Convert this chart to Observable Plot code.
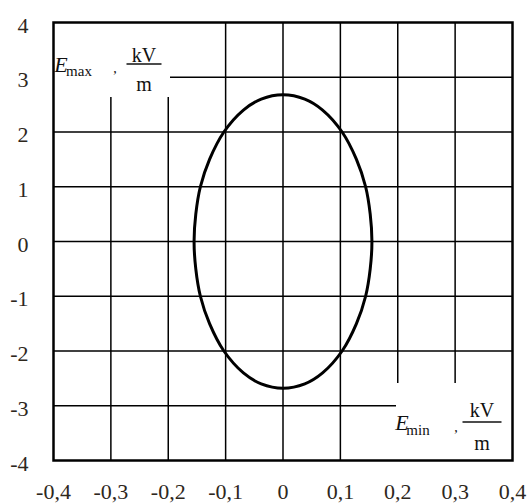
<!DOCTYPE html>
<html>
<head>
<meta charset="utf-8">
<script src="https://cdn.jsdelivr.net/npm/d3@7"></script>
<script src="https://cdn.jsdelivr.net/npm/@observablehq/plot@0.6"></script>
<style>
  html, body { margin: 0; padding: 0; background: #fff; }
  #chart svg { display: block; }
  #chart svg text { font-family: "Liberation Serif", "Times New Roman", serif; }
</style>
</head>
<body>
<div id="chart"></div>
<script>
// Grid ticks and their printed labels (decimal comma)
const xTicks = [-0.4, -0.3, -0.2, -0.1, 0, 0.1, 0.2, 0.3, 0.4];
const xTickLabels = ["-0,4", "-0,3", "-0,2", "-0,1", "0", "0,1", "0,2", "0,3", "0,4"];
const yTicks = [-4, -3, -2, -1, 0, 1, 2, 3, 4];
const yTickLabels = ["-4", "-3", "-2", "-1", "0", "1", "2", "3", "4"];

// Field hodograph: E_min (x) against E_max (y), kV/m
const eMin = [0, 0.038, 0.069, 0.103, 0.128, 0.144, 0.152, 0.155, 0.152, 0.144, 0.128, 0.103, 0.069, 0.038,
              0, -0.038, -0.069, -0.103, -0.128, -0.144, -0.152, -0.155, -0.152, -0.144, -0.128, -0.103, -0.069, -0.038];
const eMax = [2.68, 2.6, 2.4, 2.0, 1.5, 1.0, 0.5, 0, -0.5, -1.0, -1.5, -2.0, -2.4, -2.6,
              -2.68, -2.6, -2.4, -2.0, -1.5, -1.0, -0.5, 0, 0.5, 1.0, 1.5, 2.0, 2.4, 2.6];

const curve = eMin.map((x, i) => ({x, y: eMax[i]}));
const gridX = xTicks.slice(1, -1);
const gridY = yTicks.slice(1, -1);

const textColor = "#2e271c";

// Axis name written as E_sub, kV/m with a stacked fraction, on a white patch in a frame corner
function axisName(corner, sub) {
  return (index, scales, values, dim) => {
    const L = dim.marginLeft, T = dim.marginTop;
    const R = dim.width - dim.marginRight, B = dim.height - dim.marginBottom;
    const g = d3.create("svg:g").attr("fill", "#111");
    let o;
    if (corner === "top-left") {
      g.append("rect").attr("x", L).attr("y", T).attr("width", 117).attr("height", 75).attr("fill", "#fff");
      o = {ex: L + 8, ey: T + 50, sx: L + 26, sy: T + 54, cx: L + 62, cy: T + 51,
           fx: L + 91, kvy: T + 40, by: T + 42, bw: 35, my: T + 69};
    } else {
      g.append("rect").attr("x", R - 116).attr("y", B - 77).attr("width", 116).attr("height", 77).attr("fill", "#fff");
      o = {ex: R - 110, ey: B - 30, sx: R - 94, sy: B - 25, cx: R - 56, cy: B - 28,
           fx: R - 30, kvy: B - 43, by: B - 38, bw: 39, my: B - 10};
    }
    g.append("text").attr("x", o.ex).attr("y", o.ey).attr("font-size", 22).attr("font-style", "italic").text("E");
    g.append("text").attr("x", o.sx).attr("y", o.sy).attr("font-size", 15).text(sub);
    g.append("text").attr("x", o.cx).attr("y", o.cy).attr("font-size", 14).text(",");
    g.append("text").attr("x", o.fx).attr("y", o.kvy).attr("font-size", 20).attr("text-anchor", "middle").text("kV");
    g.append("line").attr("x1", o.fx - o.bw / 2).attr("x2", o.fx + o.bw / 2)
      .attr("y1", o.by).attr("y2", o.by).attr("stroke", "#111").attr("stroke-width", 1.4);
    g.append("text").attr("x", o.fx).attr("y", o.my).attr("font-size", 20).attr("text-anchor", "middle").text("m");
    return g.node();
  };
}

const chart = Plot.plot({
  width: 531,
  height: 504,
  marginLeft: 53,
  marginRight: 19,
  marginTop: 22,
  marginBottom: 44,
  style: {fontSize: "22px", color: textColor, background: "#fff"},
  x: {domain: [-0.4, 0.4]},
  y: {domain: [-4, 4]},
  marks: [
    Plot.ruleX(gridX, {stroke: "#000", strokeWidth: 1.5}),
    Plot.ruleY(gridY, {stroke: "#000", strokeWidth: 1.5}),
    Plot.line(curve, {x: "x", y: "y", curve: "catmull-rom-closed", stroke: "#000", strokeWidth: 3}),
    axisName("top-left", "max"),
    axisName("bottom-right", "min"),
    Plot.frame({stroke: "#000", strokeWidth: 2.5}),
    Plot.axisX({ticks: xTicks, tickFormat: (d, i) => xTickLabels[i], tickSize: 0, tickPadding: 23, label: null}),
    Plot.axisY({ticks: yTicks, tickFormat: (d, i) => yTickLabels[i], tickSize: 0, tickPadding: 25, dy: 3, label: null})
  ]
});

document.getElementById("chart").append(chart);
</script>
</body>
</html>
